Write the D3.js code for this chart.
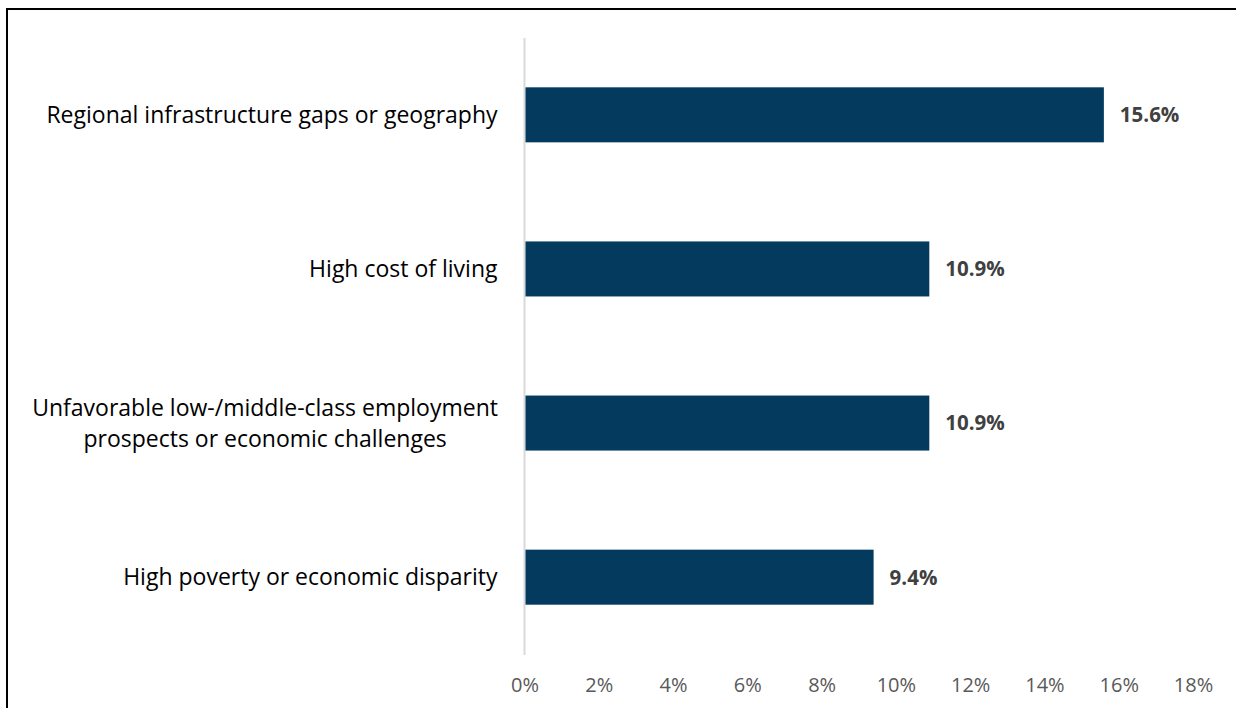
<!DOCTYPE html>
<html>
<head>
<meta charset="utf-8">
<script src="https://cdn.jsdelivr.net/npm/d3@7"></script>
<style>
  html, body { margin: 0; padding: 0; background: #fff; }
  svg { display: block; }
</style>
</head>
<body>
<svg id="chart" width="1236" height="708"></svg>
<script>
// Survey reasons, shares of respondents
const categories = [
  ["Regional infrastructure gaps or geography"],
  ["High cost of living"],
  ["Unfavorable low-/middle-class employment", "prospects or economic challenges"],
  ["High poverty or economic disparity"]
];
const values = [15.6, 10.9, 10.9, 9.4];
const tickValues = [0, 2, 4, 6, 8, 10, 12, 14, 16, 18];

const svg = d3.select("#chart");
const W = 1236, H = 708;
const font = "'Open Sans', Lato, sans-serif";

// outer frame
svg.append("rect")
  .attr("x", 7).attr("y", 9)
  .attr("width", W + 10).attr("height", H + 10)
  .attr("fill", "none").attr("stroke", "#000").attr("stroke-width", 2);

const x = d3.scaleLinear().domain([0, 18]).range([524.5, 1193]);
const y = d3.scaleBand()
  .domain(d3.range(categories.length))
  .range([38, 654])
  .paddingInner(0.643)
  .paddingOuter(0.32);

// category axis line
svg.append("line")
  .attr("x1", x(0)).attr("x2", x(0))
  .attr("y1", 38).attr("y2", 655)
  .attr("stroke", "#d9d9d9").attr("stroke-width", 2);

// bars
svg.selectAll("rect.bar").data(values).enter().append("rect")
  .attr("class", "bar")
  .attr("x", x(0) + 1)
  .attr("y", (d, i) => y(i))
  .attr("width", d => x(d) - x(0) - 1)
  .attr("height", y.bandwidth())
  .attr("fill", "#033a5e");

// value labels
svg.selectAll("text.val").data(values).enter().append("text")
  .attr("class", "val")
  .attr("x", d => x(d) + 16)
  .attr("y", (d, i) => y(i) + y.bandwidth() / 2)
  .attr("dy", "0.36em")
  .attr("font-family", font).attr("font-weight", "bold")
  .attr("font-size", 20.5).attr("fill", "#404040")
  .text(d => d.toFixed(1) + "%");

// category labels
const lineH = 31;
svg.selectAll("text.cat").data(categories).enter().append("text")
  .attr("class", "cat")
  .attr("text-anchor", "middle")
  .attr("font-family", font).attr("font-size", 23).attr("fill", "#000")
  .each(function (lines, i) {
    const t = d3.select(this);
    const cy = y(i) + y.bandwidth() / 2;
    const y0 = cy - (lines.length - 1) * lineH / 2;
    lines.forEach((s, k) => {
      t.append("tspan")
        .attr("x", 0).attr("y", y0 + k * lineH).attr("dy", "0.36em")
        .text(s);
    });
  });
// right-align multi-line blocks to the axis while keeping lines centred
svg.selectAll("text.cat").each(function () {
  const bb = this.getBBox();
  const shift = 498 - (bb.x + bb.width);
  d3.select(this).attr("transform", `translate(${shift},0)`);
});

// value axis ticks
const xAxis = d3.axisBottom(x)
  .tickValues(tickValues)
  .tickSize(0)
  .tickPadding(0)
  .tickFormat(d => d + "%");
const gx = svg.append("g").attr("transform", "translate(0,678)").call(xAxis);
gx.select(".domain").remove();
gx.selectAll("text")
  .attr("font-family", font).attr("font-size", 20).attr("fill", "#595959");
</script>
</body>
</html>
